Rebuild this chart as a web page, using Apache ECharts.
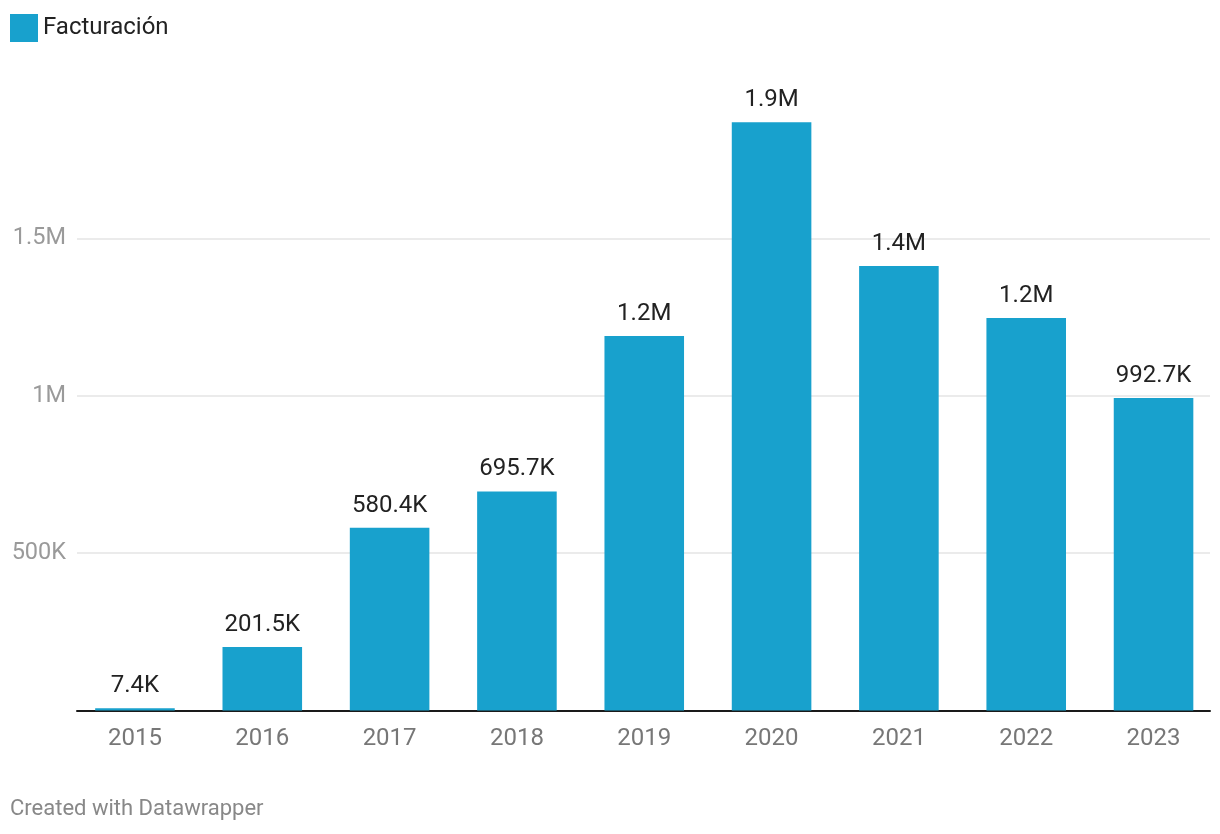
<!DOCTYPE html>
<html>
<head>
<meta charset="utf-8">
<script src="https://cdn.jsdelivr.net/npm/echarts@6/dist/echarts.min.js"></script>
<style>
html,body{margin:0;padding:0;background:#fff;}
#c{width:1220px;height:834px;}
</style>
</head>
<body>
<div id="c"></div>
<script>
const categories = ['2015','2016','2017','2018','2019','2020','2021','2022','2023'];
const facturacion = [7400, 201500, 580400, 695700, 1190000, 1869000, 1412000, 1247000, 992700];
const seriesName = 'Facturación';
const yTicks = [0, 500000, 1000000, 1500000, 2000000];
const yLabelled = [500000, 1000000, 1500000];

function fmtVal(v){
  if (v >= 1e6) return (v/1e6).toFixed(1) + 'M';
  return (v/1e3).toFixed(1) + 'K';
}
function fmtTick(v){
  if (yLabelled.indexOf(v) < 0) return '';
  if (v >= 1e6) return (v/1e6) + 'M';
  return (v/1e3) + 'K';
}

const chart = echarts.init(document.getElementById('c'));
const gridTop = 80.9, gridBottom = 123.5;
chart.setOption({
  animation: false,
  textStyle: {fontFamily: 'Roboto'},
  legend: {
    left: 10, top: 14, padding: 0, itemWidth: 28, itemHeight: 28, itemGap: 10,
    icon: 'rect',
    textStyle: {fontSize: 24, color: '#222', fontFamily: 'Roboto'},
    data: [seriesName]
  },
  graphic: [{
    type: 'text', left: 10, top: 798,
    style: {text: 'Created with Datawrapper', fontSize: 22, fill: '#888', fontFamily: 'Roboto'}
  }],
  grid: [
    {left: 77, right: 10, top: gridTop, bottom: gridBottom},
    {left: 71.3, right: 2.8, top: gridTop, bottom: gridBottom}
  ],
  xAxis: [
    {type: 'category', gridIndex: 0, data: categories,
     axisLine: {show: true, lineStyle: {color: '#1a1a1a', width: 2}},
     axisTick: {show: false}, axisLabel: {show: false}},
    {type: 'category', gridIndex: 1, data: categories,
     axisLine: {show: false}, axisTick: {show: false},
     axisLabel: {fontSize: 24, color: '#777', margin: 16, fontFamily: 'Roboto'}}
  ],
  yAxis: [
    {type: 'value', gridIndex: 0, min: yTicks[0], max: yTicks[yTicks.length-1], interval: 500000,
     axisLine: {show: false}, axisTick: {show: false},
     axisLabel: {formatter: fmtTick, fontSize: 23.5, color: '#9a9a9a', margin: 11, fontFamily: 'Roboto'},
     splitLine: {show: true, lineStyle: {color: ['rgba(0,0,0,0)','#e5e5e5','#e5e5e5','#e5e5e5','rgba(0,0,0,0)'], width: 1.5}}},
    {type: 'value', gridIndex: 1, min: yTicks[0], max: yTicks[yTicks.length-1], show: false}
  ],
  series: [{
    name: seriesName, type: 'bar', xAxisIndex: 1, yAxisIndex: 1,
    data: facturacion, barWidth: '62.5%',
    itemStyle: {color: '#18a1cd'},
    label: {show: true, position: 'top', distance: 10, formatter: p => fmtVal(p.value),
            fontSize: 24, color: '#222', fontFamily: 'Roboto'}
  }]
});
</script>
</body>
</html>
